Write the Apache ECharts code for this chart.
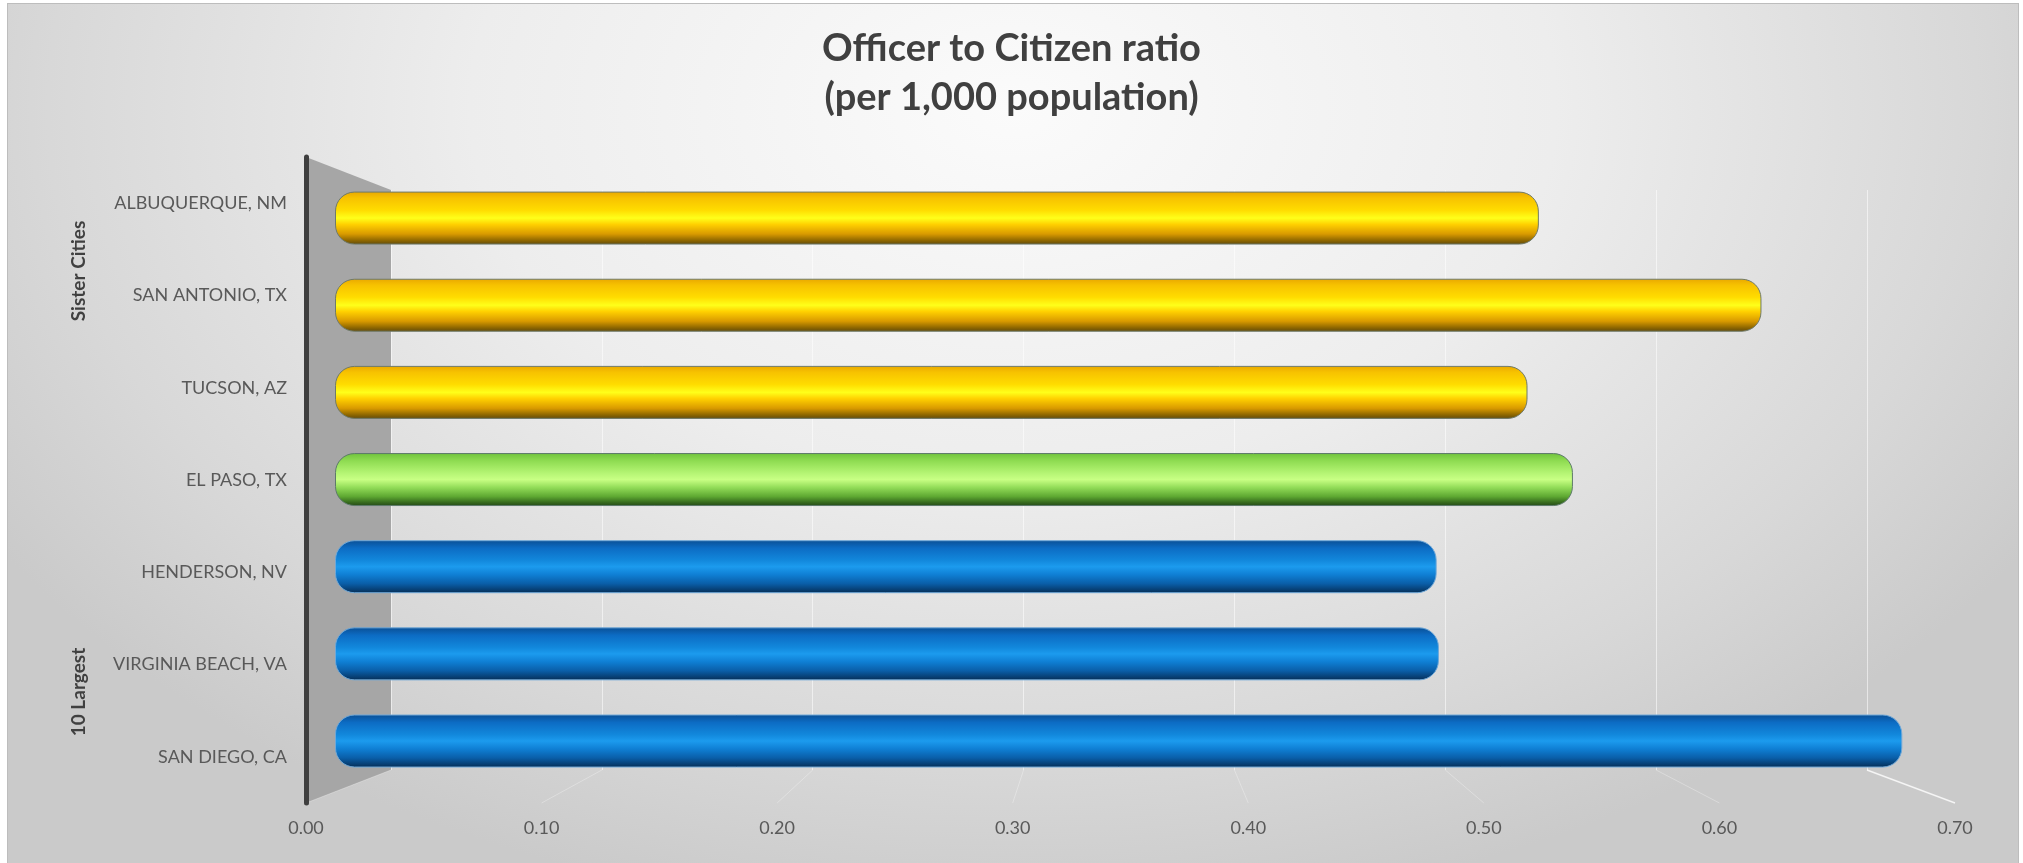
<!DOCTYPE html>
<html>
<head>
<meta charset="utf-8">
<script src="https://cdn.jsdelivr.net/npm/echarts@6/dist/echarts.min.js"></script>
<style>
  html, body { margin: 0; padding: 0; background: #ffffff; }
  #wrap {
    position: absolute; left: 7px; top: 3px; width: 2012px; height: 862px;
    box-sizing: border-box; border: 1px solid #bdbdbd;
    background: radial-gradient(ellipse 60% 95% at 50% 12%, #fbfbfb 0%, #ededed 45%, #d8d8d8 80%, #cacaca 100%);
  }
  #chart { position: absolute; left: 0; top: 0; width: 2023px; height: 863px; }
</style>
</head>
<body>
<div id="wrap"></div>
<div id="chart"></div>
<script>
// ---- data ----
const categories = ['ALBUQUERQUE, NM', 'SAN ANTONIO, TX', 'TUCSON, AZ', 'EL PASO, TX', 'HENDERSON, NV', 'VIRGINIA BEACH, VA', 'SAN DIEGO, CA'];
const values = [0.53, 0.628, 0.525, 0.545, 0.485, 0.486, 0.69];
const groups = ['sister', 'sister', 'sister', 'elpaso', 'largest', 'largest', 'largest'];
const groupLabels = ['Sister Cities', '10 Largest'];
const titleLines = ['Officer to Citizen ratio', '(per 1,000 population)'];
const axisMax = 0.7;
const axisStep = 0.1;

// ---- styling ----
const FONT = 'Lato, "Open Sans", sans-serif';
function grad(stops) {
  return new echarts.graphic.LinearGradient(0, 0, 0, 1, stops.map(s => ({ offset: s[0], color: s[1] })));
}
const fills = {
  sister: grad([[0, '#e9a800'], [0.12, '#f7c200'], [0.35, '#ffdc00'], [0.5, '#ffff1a'], [0.62, '#ffd000'], [0.8, '#d99a00'], [0.93, '#8a6400'], [1, '#5e4a10']]),
  elpaso: grad([[0, '#6fc23c'], [0.15, '#8fdc52'], [0.38, '#b5f574'], [0.5, '#c8ff84'], [0.65, '#92dc58'], [0.82, '#5ea832'], [0.94, '#34661c'], [1, '#26481a']]),
  largest: grad([[0, '#0a4f95'], [0.15, '#0c6cc4'], [0.38, '#1288dc'], [0.5, '#1c9bee'], [0.65, '#0f7fd4'], [0.82, '#0a5ea8'], [0.94, '#073e72'], [1, '#052c52']])
};
const borders = { sister: '#6f7a6a', elpaso: '#5d7a6a', largest: '#6fa8d8' };

// ---- geometry of the 3D frame ----
const front = { left: 306, top: 157, bottom: 803, right: 1955 };   // front plane (labels)
const back = { left: 391, top: 190, bottom: 770, right: 1867 };    // back wall
const bars = { left: 335, top: 174.5, bottom: 784.6, width: 1590 }; // mid-depth plane

const chart = echarts.init(document.getElementById('chart'), null, { renderer: 'canvas' });

const tickVals = [];
for (let i = 0; i <= Math.round(axisMax / axisStep); i++) tickVals.push(+(i * axisStep).toFixed(2));

const floorLines = tickVals.map((v, i) => {
  const xb = back.left + (back.right - back.left) * v / axisMax;
  const xf = front.left + (front.right - front.left) * v / axisMax;
  const last = i === tickVals.length - 1;
  return {
    type: 'line', z: 0, silent: true,
    shape: { x1: xb, y1: back.bottom, x2: xf, y2: front.bottom },
    style: { stroke: last ? 'rgba(255,255,255,0.8)' : 'rgba(255,255,255,0.3)', lineWidth: last ? 1.5 : 1 }
  };
});

const option = {
  backgroundColor: 'transparent',
  animation: false,
  title: {
    text: titleLines.join('\n'),
    left: 'center',
    top: 24,
    padding: 0,
    textStyle: { fontFamily: FONT, fontSize: 38, fontWeight: 'bold', color: '#404040', lineHeight: 49 }
  },
  grid: [
    { left: bars.left, top: bars.top, width: bars.width, height: bars.bottom - bars.top, containLabel: false },
    { left: back.left, top: back.top, width: back.right - back.left, height: back.bottom - back.top, containLabel: false },
    { left: front.left, top: front.top, width: front.right - front.left, height: front.bottom - front.top, containLabel: false }
  ],
  xAxis: [
    { gridIndex: 0, type: 'value', min: 0, max: axisMax, interval: axisStep, show: false },
    {
      gridIndex: 1, type: 'value', min: 0, max: axisMax, interval: axisStep,
      axisLine: { show: false }, axisTick: { show: false }, axisLabel: { show: false },
      splitLine: { show: true, lineStyle: { color: 'rgba(255,255,255,0.55)', width: 1 } }
    },
    {
      gridIndex: 2, type: 'value', min: 0, max: axisMax, interval: axisStep,
      axisLine: { show: false }, axisTick: { show: false }, splitLine: { show: false },
      axisLabel: { margin: 16, color: '#595959', fontFamily: FONT, fontSize: 18, formatter: v => v.toFixed(2) }
    }
  ],
  yAxis: [
    { gridIndex: 0, type: 'category', inverse: true, data: categories, show: false },
    { gridIndex: 1, type: 'value', min: 0, max: 1, show: false },
    {
      gridIndex: 2, type: 'category', inverse: true, data: categories,
      axisLine: { show: true, lineStyle: { color: '#3f3f3f', width: 5 } },
      axisTick: { show: false },
      axisLabel: { margin: 19, color: '#595959', fontFamily: FONT, fontSize: 18 }
    }
  ],
  graphic: [
    {
      type: 'polygon', z: 0, silent: true,
      shape: { points: [[front.left, front.top], [back.left, back.top], [back.left, back.bottom], [front.left, front.bottom]] },
      style: { fill: '#a6a6a6' }
    },
    ...floorLines,
    {
      type: 'text', z: 5, x: 79, y: 271, rotation: Math.PI / 2,
      style: { text: groupLabels[0], fill: '#404040', font: 'bold 19px ' + FONT, textAlign: 'center', textVerticalAlign: 'middle' }
    },
    {
      type: 'text', z: 5, x: 79, y: 692, rotation: Math.PI / 2,
      style: { text: groupLabels[1], fill: '#404040', font: 'bold 19px ' + FONT, textAlign: 'center', textVerticalAlign: 'middle' }
    }
  ],
  series: [
    {
      type: 'bar',
      xAxisIndex: 0, yAxisIndex: 0,
      barWidth: 53,
      z: 3,
      data: values.map((v, i) => ({
        value: v,
        itemStyle: {
          color: fills[groups[i]],
          borderColor: borders[groups[i]],
          borderWidth: 1,
          borderRadius: 19
        }
      }))
    }
  ]
};
chart.setOption(option);
</script>
</body>
</html>
